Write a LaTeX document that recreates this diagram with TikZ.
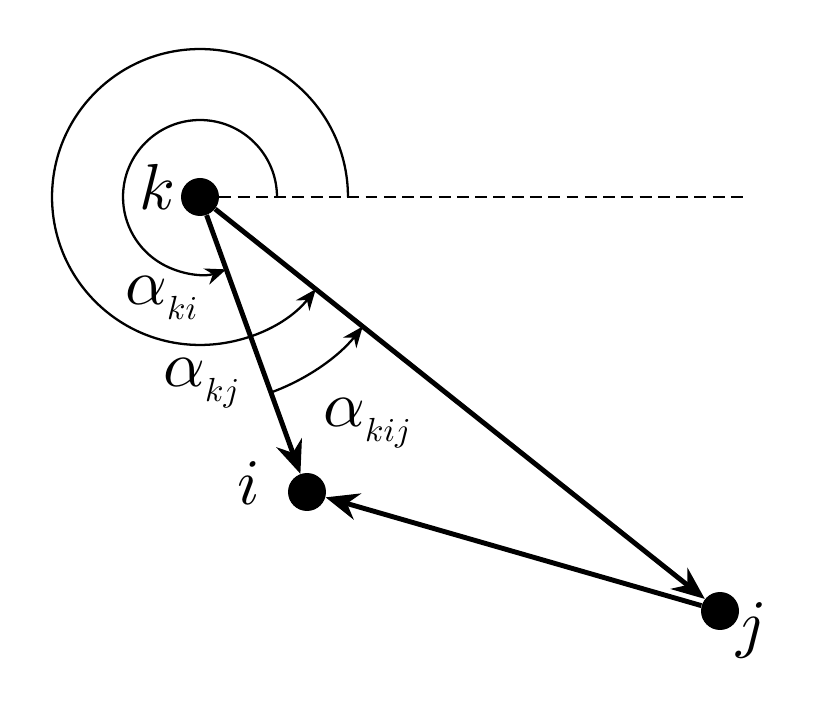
\documentclass[tikz,border=0pt]{standalone}
\usepackage{graphicx}
\usetikzlibrary{arrows.meta}
\newcommand{\lbl}[1]{\scalebox{3.7}{#1}}
\newcommand{\angsub}[1]{\lbl{$\alpha$}\raisebox{-0.3cm}{\scalebox{1.9}{$#1$}}}

\begin{document}
\begin{tikzpicture}
  [x=0.02cm,y=0.02cm,
   every node/.style={circle,fill=black,inner sep=0pt,minimum size=0.76cm},
   lab/.style={rectangle,fill=none,minimum size=0pt,inner sep=0pt},
   angarc/.style={line width=1.3pt,-{Stealth[length=0.42cm,width=0.34cm]}}]
  \useasboundingbox (0,0) rectangle (832,727);
  \node (k) at (200,530) {};
  \node (i) at (307,235) {};
  \node (j) at (720,116) {};
  \coordinate (e) at (748,530);

  \node[lab] (lk) at (157,540) {\lbl{$k$}};
  \node[lab] (li) at (249,244) {\lbl{$i$}};
  \node[lab] (lj) at (752,97) {\lbl{$j$}};
  \node[lab,anchor=base west] (lki) at (125,422) {\angsub{ki}};
  \node[lab,anchor=base west] (lkj) at (163,340) {\angsub{kj}};
  \node[lab,anchor=base west] (lkij) at (323,300) {\angsub{kij}};

  % angles
  \draw[line width=1.6pt,dash pattern=on 6.8pt off 3.6pt] (k) -- (e);
  \draw[angarc] (k.center) ++(0:1.54cm) arc[start angle=0,end angle=289.9,radius=1.54cm];
  \draw[angarc] (k.center) ++(0:2.96cm) arc[start angle=0,end angle=321.5,radius=2.96cm];
  \draw[angarc] (k.center) ++(-70.1:4.16cm) arc[start angle=-70.1,end angle=-38.5,radius=4.16cm];

\path[draw,line width=2.8pt,-{Stealth[length=0.66cm,width=0.54cm]}]
    (k) edge (i)
    (k) edge (j)
    (j) edge (i)
    ;

\end{tikzpicture}
\end{document}
